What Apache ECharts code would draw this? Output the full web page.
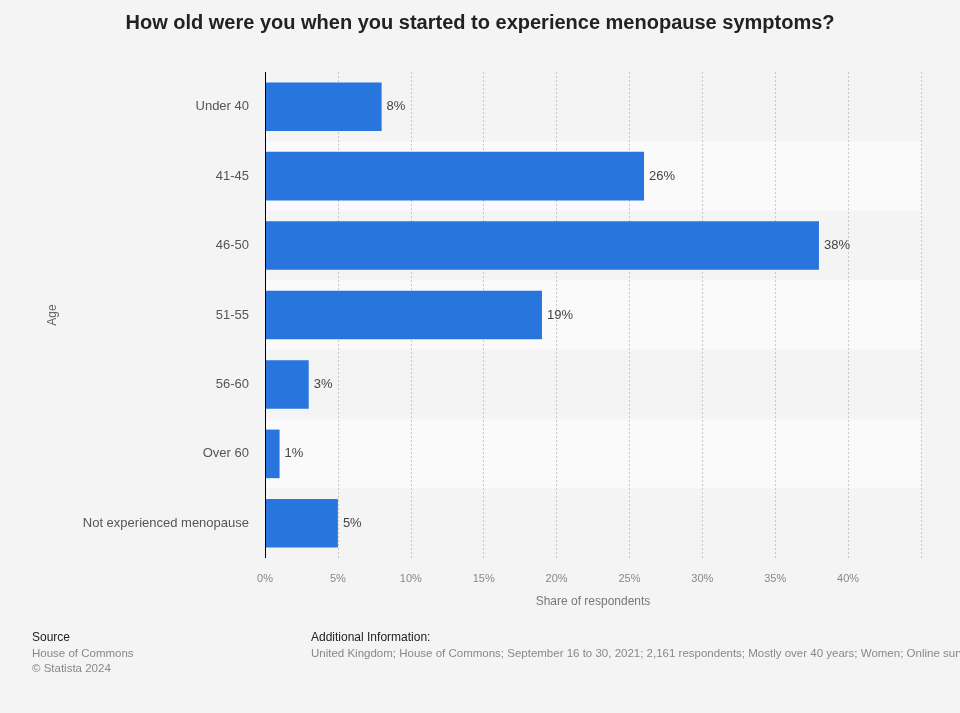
<!DOCTYPE html>
<html><head><meta charset="utf-8">
<script src="https://cdn.jsdelivr.net/npm/echarts@6/dist/echarts.min.js"></script>
<style>html,body{margin:0;padding:0;background:#f4f4f4;}#c{width:960px;height:713px;}</style>
</head><body><div id="c"></div>
<script>
const categories = ['Under 40','41-45','46-50','51-55','56-60','Over 60','Not experienced menopause'];
const values = [8, 26, 38, 19, 3, 1, 5];
const xTicks = [0, 5, 10, 15, 20, 25, 30, 35, 40, 45];

const chart = echarts.init(document.getElementById('c'));
const ff = '"Liberation Sans", Arial, sans-serif';
chart.setOption({
  backgroundColor: '#f4f4f4',
  animation: false,
  title: {
    text: 'How old were you when you started to experience menopause symptoms?',
    left: 'center', top: 8,
    textStyle: {fontFamily: ff, fontSize: 20, fontWeight: 'bold', color: '#222'}
  },
  grid: {left: 265, right: 39, top: 72, bottom: 155},
  xAxis: {
    type: 'value', min: xTicks[0], max: xTicks[xTicks.length-1], interval: 5,
    name: 'Share of respondents', nameLocation: 'middle', nameGap: 38,
    nameTextStyle: {fontFamily: ff, fontSize: 12, color: '#777'},
    axisLine: {show: false}, axisTick: {show: false},
    axisLabel: {fontFamily: ff, fontSize: 11, color: '#888', margin: 15,
      formatter: v => v >= 45 ? '' : v + '%'},
    splitLine: {show: true, lineStyle: {type: [2, 2], color: '#c8c8c8', width: 1}}
  },
  yAxis: {
    type: 'category', data: categories, inverse: true,
    name: 'Age', nameLocation: 'middle', nameGap: 206, nameRotate: 90,
    nameTextStyle: {fontFamily: ff, fontSize: 12, color: '#666'},
    axisLine: {show: false},
    axisTick: {show: false},
    axisLabel: {fontFamily: ff, fontSize: 13, color: '#555', margin: 16},
    splitArea: {show: true, areaStyle: {color: ['#f4f4f4', '#fafafa']}}
  },
  series: [{
    type: 'bar', data: values, barCategoryGap: '30%',
    itemStyle: {color: '#2876dd'},
    label: {show: true, position: 'right', distance: 5, formatter: '{c}%',
      fontFamily: ff, fontSize: 13, color: '#444'},
    markLine: {
      silent: true, symbol: ['none', 'none'], animation: false,
      label: {show: false},
      lineStyle: {color: '#000', width: 1, type: 'solid'},
      data: [{xAxis: 0}]
    }
  }],
  graphic: [
    {type: 'text', left: 32, top: 632, style: {text: 'Source', font: '12px ' + ff, fill: '#222'}},
    {type: 'text', left: 32, top: 648, style: {text: 'House of Commons', font: '11.5px ' + ff, fill: '#888'}},
    {type: 'text', left: 32, top: 663, style: {text: '© Statista 2024', font: '11.5px ' + ff, fill: '#888'}},
    {type: 'text', left: 311, top: 632, style: {text: 'Additional Information:', font: '12px ' + ff, fill: '#222'}},
    {type: 'text', left: 311, top: 648, style: {text: 'United Kingdom; House of Commons; September 16 to 30, 2021; 2,161 respondents; Mostly over 40 years; Women; Online survey', font: '11.5px ' + ff, fill: '#888'}}
  ]
});
</script></body></html>
